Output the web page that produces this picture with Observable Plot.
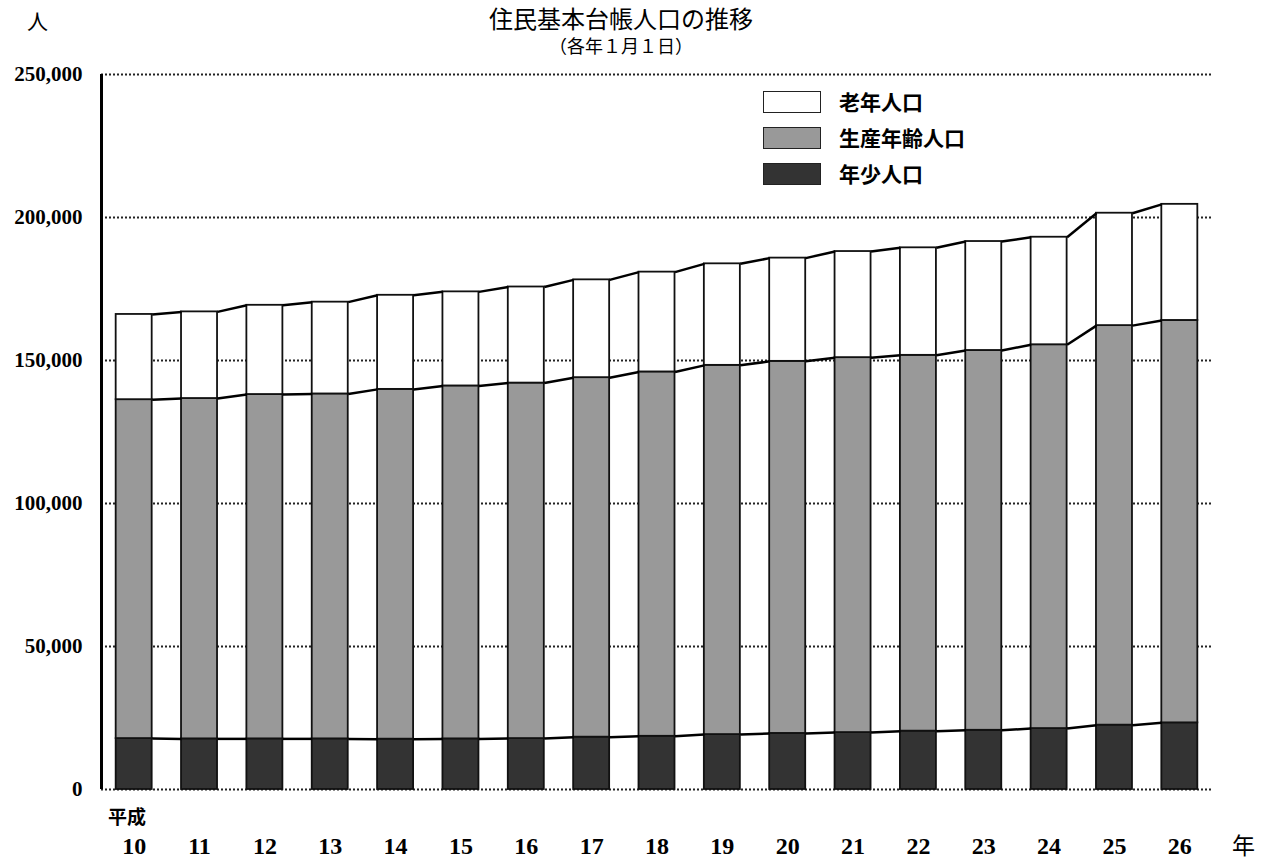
<!DOCTYPE html>
<html>
<head>
<meta charset="utf-8">
<script src="https://cdn.jsdelivr.net/npm/d3@7"></script>
<script src="https://cdn.jsdelivr.net/npm/@observablehq/plot@0.6"></script>
<style>
  html, body { margin: 0; padding: 0; background: #fff; }
  #wrap { position: relative; width: 1269px; height: 861px; overflow: hidden; font-family: "Noto Sans CJK JP", sans-serif; }
  .abs { position: absolute; white-space: nowrap; line-height: 1.15; color: #000; }
  .lg-box { position: absolute; width: 58px; height: 22px; border: 1.5px solid #222; box-sizing: border-box; }
  .lg-text { position: absolute; font-weight: 700; font-size: 21px; line-height: 22px; }
</style>
</head>
<body>
<div id="wrap">
  <div id="chart" style="position:absolute; left:0; top:0;"></div>
  <div class="abs" id="title" style="top:5px; left:0; width:1242px; text-align:center; font-size:24px; line-height:26px;"></div>
  <div class="abs" id="subtitle" style="top:37px; left:0; width:1242px; text-align:center; font-size:18px; font-family:'Liberation Serif','Noto Sans CJK JP',serif;"></div>
  <div class="abs" id="yunit" style="top:8px; left:27px; font-size:21px;"></div>
  <div class="abs" id="era" style="top:805px; left:108px; font-size:19px; font-weight:700;"></div>
  <div class="abs" id="xunit" style="top:831px; left:1232px; font-size:23px;"></div>
  <div id="legend"></div>
</div>
<script>
// ---- data ----
const titleText = "住民基本台帳人口の推移";
const subtitleText = "（各年１月１日）";
const yUnit = "人";
const xUnit = "年";
const eraLabel = "平成";
const years = ["10","11","12","13","14","15","16","17","18","19","20","21","22","23","24","25","26"];
const young   = [17800,17700,17700,17700,17600,17700,17800,18300,18600,19200,19600,19900,20400,20700,21300,22500,23300];
const working = [118500,119000,120400,120600,122300,123400,124300,125700,127400,129100,130100,131100,131400,132800,134200,139700,140700];
const elderly = [29800,30300,31200,32100,32900,32900,33600,34200,34900,35500,36100,37100,37600,38100,37600,39300,40600];
const seriesNames = ["年少人口","生産年齢人口","老年人口"];
const seriesColors = ["#333333","#999999","#ffffff"];
const legendOrder = ["老年人口","生産年齢人口","年少人口"];
const yTicks = [0,50000,100000,150000,200000,250000];

// ---- build tables ----
const half = 0.2755;
const values = [young, working, elderly];
const rows = [];
const cums = [[],[],[]];
years.forEach((y, i) => {
  let base = 0;
  values.forEach((arr, s) => {
    rows.push({i, series: seriesNames[s], y1: base, y2: base + arr[i]});
    base += arr[i];
    cums[s].push(base);
  });
});
const links = [];
cums.forEach(c => {
  for (let i = 0; i < c.length - 1; i++) {
    links.push({x1: i + half, y1: c[i], x2: i + 1 - half, y2: c[i + 1]});
  }
});

document.getElementById("title").textContent = titleText;
document.getElementById("subtitle").textContent = subtitleText;
document.getElementById("yunit").textContent = yUnit;
document.getElementById("xunit").textContent = xUnit;
document.getElementById("era").textContent = eraLabel;

const plot = Plot.plot({
  width: 1269,
  height: 861,
  marginLeft: 101,
  marginRight: 57,
  marginTop: 74,
  marginBottom: 72,
  style: {background: "transparent", fontFamily: "'Liberation Serif', serif", color: "#000"},
  x: {type: "linear", domain: [-0.5, years.length - 0.5], axis: null},
  y: {domain: [0, 250000], axis: null},
  color: {domain: seriesNames, range: seriesColors},
  marks: [
    Plot.ruleY(yTicks, {stroke: "#222", strokeWidth: 2, strokeDasharray: "2,2"}),
    Plot.rectY(rows, {x1: d => d.i - half, x2: d => d.i + half, y1: "y1", y2: "y2", fill: "series", stroke: "#111", strokeWidth: 1.8}),
    Plot.link(links, {x1: "x1", y1: "y1", x2: "x2", y2: "y2", stroke: "#000", strokeWidth: 2.5}),
    Plot.ruleX([-0.5], {y1: 0, y2: 250000, stroke: "#000", strokeWidth: 3}),
    Plot.axisY(yTicks, {tickSize: 0, tickPadding: 19, tickFormat: d3.format(","), fontSize: 21, fontWeight: "bold", label: null}),
    Plot.axisX(d3.range(years.length), {tickSize: 0, tickPadding: 47, tickFormat: i => years[i], fontSize: 24, fontWeight: "bold", label: null})
  ]
});
document.getElementById("chart").appendChild(plot);

// legend
const lg = document.getElementById("legend");
legendOrder.forEach((name, k) => {
  const color = seriesColors[seriesNames.indexOf(name)];
  const top = 91 + k * 36;
  const box = document.createElement("div");
  box.className = "lg-box";
  box.style.left = "763px";
  box.style.top = top + "px";
  box.style.background = color;
  lg.appendChild(box);
  const t = document.createElement("div");
  t.className = "lg-text";
  t.style.left = "839px";
  t.style.top = (top - 1) + "px";
  t.textContent = name;
  lg.appendChild(t);
});
</script>
</body>
</html>
